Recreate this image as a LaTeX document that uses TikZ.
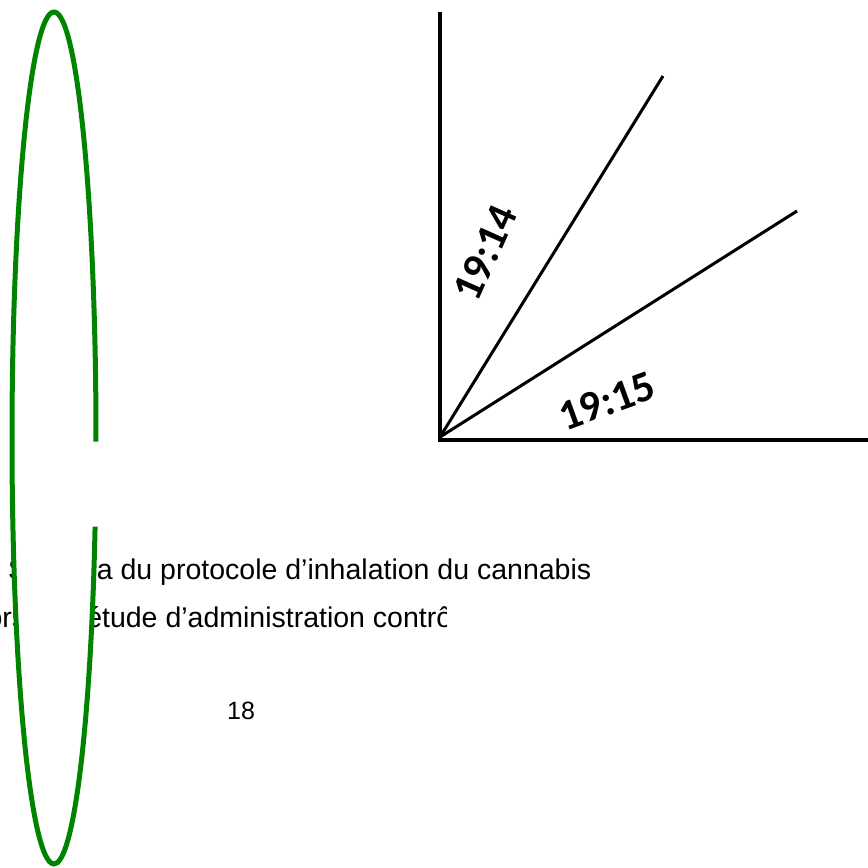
\documentclass[tikz,border=0pt]{standalone}
\usepackage{fontspec}
\setmainfont{Liberation Sans}
\newfontfamily\labelfont{Carlito}
\usepackage{tikz}
\usetikzlibrary{positioning,calc}
\definecolor{ringgreen}{RGB}{0,132,0}

\begin{document}
\begin{tikzpicture}[
    x=1pt, y=-1pt,
    every node/.style={inner sep=0pt},
    caption/.style={anchor=base west, font=\fontsize{28.5}{34}\selectfont},
    axis/.style={line width=4.5pt},
    ray/.style={line width=3pt},
    tag/.style={font=\labelfont\bfseries\fontsize{43}{48}\selectfont},
    ring/.style={ringgreen, line width=5pt}
  ]
    \useasboundingbox (0,0) rectangle (868,868);
    % caption lines
    \node[caption] (cap1) at (8,579) {Schéma du protocole d’inhalation du cannabis};
    \begin{scope}
      \clip (-20,597) rectangle (446,642);
      \node[caption] (cap2) at (-20,627) {lors de l’étude d’administration contrôlée};
    \end{scope}
    \node[caption, font=\fontsize{25}{30}\selectfont] (page) at (227,719) {18};
    % axes and rays
    \coordinate (O) at (440,437);
    \coordinate (ytop) at (440,12);
    \coordinate (xend) at (868,440);
    \coordinate (r1) at (663,76);
    \coordinate (r2) at (797,211);
    \draw[axis] (ytop) -- (440,440) -- (xend);
    \draw[ray] (O) -- (r1);
    \draw[ray] (O) -- (r2);
    \node[tag, rotate=66] (t1) at (485,253) {19:14};
    \node[tag, rotate=20] (t2) at (607,401) {19:15};
    % ring over the caption, open on the right
    \fill[white] (54,438) ellipse [x radius=42, y radius=426];
    \draw[ring] ($(54,438)+(0.5:42 and 426)$)
      arc[start angle=0.5, end angle=-348, x radius=42, y radius=426];
\end{tikzpicture}
\end{document}
